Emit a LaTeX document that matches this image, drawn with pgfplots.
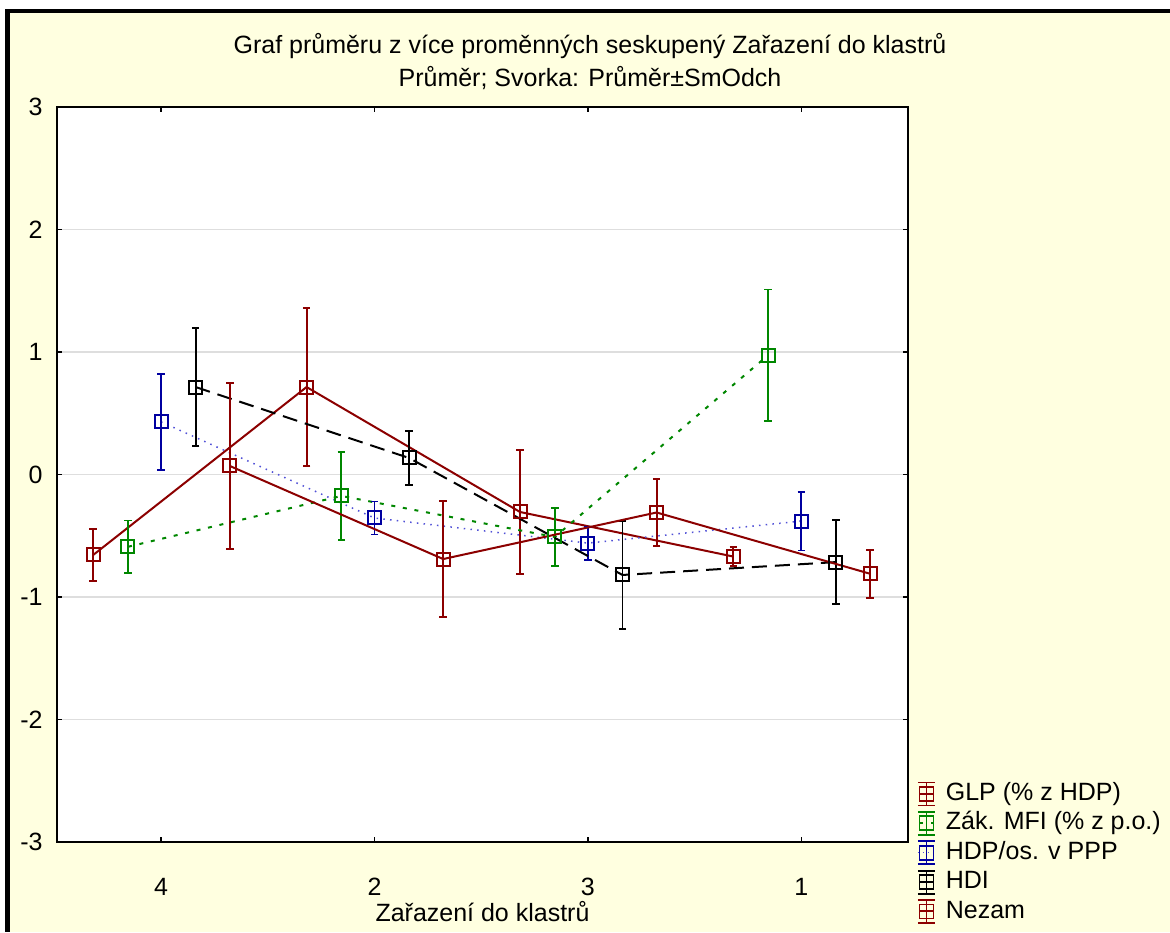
\documentclass[border=0pt]{standalone}
\usepackage{fontspec}
\setmainfont{Liberation Sans}
\usepackage{pgfplots}
\pgfplotsset{compat=1.18}
\definecolor{bg}{RGB}{255,255,224}
\definecolor{glp}{RGB}{140,0,0}
\definecolor{zak}{RGB}{0,135,0}
\definecolor{hdp}{RGB}{0,0,160}
\definecolor{hdpline}{RGB}{80,80,215}
\definecolor{gridc}{RGB}{222,222,222}

\begin{document}
\fontsize{10}{12}\selectfont
\begin{tikzpicture}
\useasboundingbox (0,0) rectangle (468pt,372.8pt);
\fill[white] (0,0) rectangle (468pt,372.8pt);
\fill[bg] (4pt,0) rectangle (468pt,367.6pt);
\fill[black] (2pt,0) rectangle (4pt,369.2pt);
\fill[black] (2pt,367.6pt) rectangle (468pt,369.2pt);
\node[align=center, inner sep=0pt, font=\fontsize{10}{13.2}\selectfont]
  at (236pt,348.2pt) {Graf průměru z více proměnných seskupený Zařazení do klastrů\\Průměr; Svorka: Průměr±SmOdch};

\begin{axis}[
  at={(22.8pt,36pt)}, anchor=south west,
  width=340.4pt, height=294pt, scale only axis,
  xmin=-0.4875, xmax=3.5, ymin=-3, ymax=3,
  xtick={0,1,2,3}, xticklabels={4,2,3,1},
  ytick={-3,-2,-1,0,1,2,3},
  ymajorgrids, major grid style={gridc, line width=0.6pt},
  axis line style={line width=0.6pt},
  tick align=inside, tick pos=both, major tick length=2pt,
  tick style={black, line width=0.5pt},
  axis background/.style={fill=white},
  /pgf/number format/assume math mode=true,
  yticklabel style={inner sep=0pt, xshift=-5.6pt},
  xticklabel style={inner sep=0pt, yshift=-14.3pt},
  xlabel={Zařazení do klastrů},
  xlabel style={at={(axis description cs:0.5,-0.095)}, anchor=center, inner sep=0pt},
  legend style={at={(axis description cs:1.010,0.083)}, anchor=north west,
    draw=none, fill=none, row sep=1.8pt, inner sep=0pt,
    nodes={inner sep=0pt, anchor=west, text height=7.5pt, text depth=2.2pt},
    /tikz/every odd column/.style={column sep=4pt}},
  legend cell align=left,
  legend image code/.code={
    \draw[#1] (-2.8pt,0pt) -- (2.8pt,0pt);
    \draw[#1, solid, line width=0.75pt] (0pt,-4.6pt) -- (0pt,4.6pt);
    \draw[#1, solid, line width=0.75pt] (-3.4pt,-4.6pt) -- (3.4pt,-4.6pt);
    \draw[#1, solid, line width=0.75pt] (-3.4pt,4.6pt) -- (3.4pt,4.6pt);
    \draw[#1, solid, line width=0.75pt] (-2.8pt,-2.8pt) rectangle (2.8pt,2.8pt);
  },
  every axis plot/.append style={line width=0.8pt, mark=square, mark size=2.6pt,
    error bars/y dir=both, error bars/y explicit,
    error bars/error bar style={solid, line width=0.75pt},
    error bars/error mark options={rotate=90, mark size=1.5pt, line width=0.75pt}},
]
% GLP (% z HDP)
\addplot[glp, mark options={solid, line width=0.8pt}] coordinates {
  (-0.318,-0.657) +- (0,0.215)
  (0.682,0.714) +- (0,0.645)
  (1.682,-0.306) +- (0,0.505)
  (2.682,-0.670) +- (0,0.075)
};
\addlegendentry{GLP (\% z HDP)}
% Zak. MFI
\addplot[zak, dash pattern=on 1.6pt off 3.1pt, mark options={solid, line width=0.8pt}] coordinates {
  (-0.155,-0.590) +- (0,0.215)
  (0.845,-0.175) +- (0,0.360)
  (1.845,-0.510) +- (0,0.240)
  (2.845,0.975) +- (0,0.535)
};
\addlegendentry{Zák. MFI (\% z p.o.)}
% HDP/os. v PPP
\addplot[hdpline, line width=0.6pt, dash pattern=on 0.6pt off 2.1pt,
  mark options={hdp, solid, line width=0.8pt},
  error bars/error bar style={hdp, solid, line width=0.75pt},
  legend image code/.code={
    \draw[hdpline, line width=0.6pt, dash pattern=on 0.6pt off 1.4pt] (-3.4pt,0pt) -- (3.4pt,0pt);
    \draw[hdp, solid, line width=0.75pt] (0pt,-4.6pt) -- (0pt,4.6pt);
    \draw[hdp, solid, line width=0.75pt] (-3.4pt,-4.6pt) -- (3.4pt,-4.6pt);
    \draw[hdp, solid, line width=0.75pt] (-3.4pt,4.6pt) -- (3.4pt,4.6pt);
    \draw[hdp, solid, line width=0.75pt] (-2.8pt,-2.8pt) rectangle (2.8pt,2.8pt);
  }] coordinates {
  (0,0.430) +- (0,0.390)
  (1,-0.355) +- (0,0.135)
  (2,-0.560) +- (0,0.135)
  (3,-0.380) +- (0,0.240)
};
\addlegendentry{HDP/os. v PPP}
% HDI
\addplot[black, dash pattern=on 6pt off 3.2pt, mark options={solid, line width=0.8pt}] coordinates {
  (0.162,0.714) +- (0,0.480)
  (1.162,0.135) +- (0,0.220)
  (2.162,-0.820) +- (0,0.440)
  (3.162,-0.715) +- (0,0.345)
};
\addlegendentry{HDI}
% Nezam
\addplot[glp, mark options={solid, line width=0.8pt}] coordinates {
  (0.322,0.070) +- (0,0.680)
  (1.322,-0.690) +- (0,0.475)
  (2.322,-0.310) +- (0,0.270)
  (3.322,-0.810) +- (0,0.195)
};
\addlegendentry{Nezam}
\end{axis}
\end{tikzpicture}
\end{document}
